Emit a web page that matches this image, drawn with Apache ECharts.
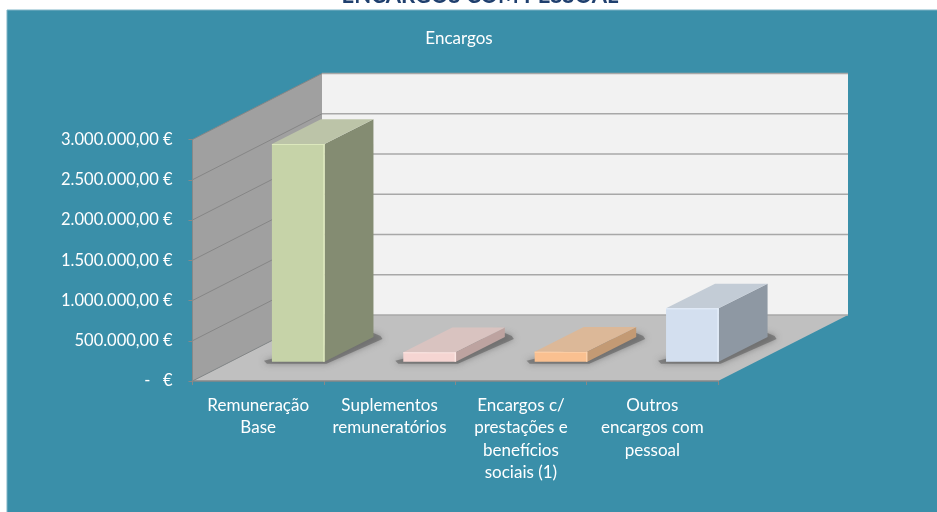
<!DOCTYPE html>
<html><head><meta charset="utf-8">
<style>html,body{margin:0;padding:0;background:#fff}#c{width:937px;height:512px}</style>
<script src="https://cdn.jsdelivr.net/npm/echarts@6/dist/echarts.min.js"></script>
</head><body><div id="c"></div>
<script>
const categories = ['Remuneração\nBase','Suplementos\nremuneratórios','Encargos c/\nprestações e\nbenefícios\nsociais (1)','Outros\nencargos com\npessoal'];
const values = [2704000, 117000, 124000, 663000];
const tickValues = [0, 500000, 1000000, 1500000, 2000000, 2500000, 3000000];
const tickLabels = ['-   €','500.000,00 €','1.000.000,00 €','1.500.000,00 €','2.000.000,00 €','2.500.000,00 €','3.000.000,00 €'];
const barFront = ['#c6d3a8','#f5d5d2','#fac090','#d3dfef'];
const barTop   = ['#bcc4a8','#d9c3c0','#dcb898','#c3ccd6'];
const barSide  = ['#848c72','#bda3a0','#c39a74','#8e98a3'];
const barEdge  = ['#dde8bd','#fbe6e3','#fcd0aa','#e4eefa'];

const DEPTH = [129.5, 66];
const BAR_OFFSET = [40, 19.3];
const BAR_DEPTH = [49, 24.7];
const BAR_WIDTH = 0.4;

const chart = echarts.init(document.getElementById('c'), null, {renderer:'canvas'});
const poly = (pts, fill, extra) => ({type:'polygon', shape:{points:pts}, style:Object.assign({fill:fill}, extra||{}), silent:true});
const line = (a, b, stroke, w) => ({type:'line', shape:{x1:a[0],y1:a[1],x2:b[0],y2:b[1]}, style:{stroke:stroke, lineWidth:w}, silent:true});

function renderWalls(params){
  const g = params.coordSys, dx = DEPTH[0], dy = DEPTH[1];
  const L=g.x, R=g.x+g.width, T=g.y, B=g.y+g.height;
  return {type:'group', children:[
    poly([[L+dx,T-dy],[R+dx+0.5,T-dy],[R+dx+0.5,B-dy],[L+dx,B-dy]], '#f2f2f2'),
    poly([[L,T],[L+dx,T-dy],[L+dx,B-dy],[L,B]], '#a0a0a0'),
    poly([[L,B],[L+dx,B-dy],[R+dx+0.5,B-dy],[R,B]], '#c0c0c0')
  ]};
}
function renderGrid(params, api){
  const g = params.coordSys, dx = DEPTH[0], dy = DEPTH[1];
  const y = api.coord([0, api.value(0)])[1];
  const L=g.x, R=g.x+g.width;
  return {type:'group', children:[
    line([L,y],[L+dx,y-dy],'#868686',1),
    line([L+dx,y-dy],[R+dx+0.5,y-dy],'#a8a8a8',1.5)
  ]};
}
function renderShadow(params, api){
  const i = api.value(0);
  const band = api.size([1,0])[0], w = band*BAR_WIDTH;
  const b = api.coord([i,0]);
  const x0 = b[0]+BAR_OFFSET[0]-w/2, x1 = x0+w, y = b[1]-BAR_OFFSET[1];
  const ddx = BAR_DEPTH[0], ddy = BAR_DEPTH[1];
  return poly([[x0-8,y-1],[x0-5,y+2],[x1+2,y+2],[x1+ddx+9,y-ddy+2],[x1+ddx+7,y-ddy-1],[x1+ddx,y-ddy-4]],
    'rgba(95,95,95,0.6)', {shadowBlur:6, shadowColor:'rgba(80,80,80,0.85)'});
}
function renderBar(params, api){
  const i = api.value(0), v = api.value(1);
  const band = api.size([1,0])[0], w = band*BAR_WIDTH;
  const b = api.coord([i,0]), t = api.coord([i,v]);
  const x0 = b[0]+BAR_OFFSET[0]-w/2, x1 = x0+w;
  const yb = b[1]-BAR_OFFSET[1], yt = t[1]-BAR_OFFSET[1];
  const ddx = BAR_DEPTH[0], ddy = BAR_DEPTH[1];
  return {type:'group', children:[
    poly([[x1,yb],[x1+ddx,yb-ddy],[x1+ddx,yt-ddy],[x1,yt]], barSide[i]),
    poly([[x0,yt],[x1,yt],[x1+ddx,yt-ddy],[x0+ddx,yt-ddy]], barTop[i]),
    poly([[x0,yb],[x1,yb],[x1,yt],[x0,yt]], barFront[i]),
    line([x1-0.5,yt],[x1-0.5,yb],barEdge[i],1.5),
    line([x0,yt+0.5],[x1,yt+0.5],barEdge[i],1)
  ]};
}

chart.setOption({
  animation:false,
  graphic:[{type:'rect', z:-10, shape:{x:7,y:10,width:931,height:503}, style:{fill:'#3a8fa9', stroke:'#7fb4c6', lineWidth:1}, silent:true}],
  title:[
    {text:'ENCARGOS COM PESSOAL', left:480, top:-15, padding:0, textAlign:'center', textStyle:{fontFamily:'Lato',fontSize:22,fontWeight:'bold',color:'#1f3f6e'}},
    {text:'Encargos', left:459, top:30, padding:0, textAlign:'center', textStyle:{fontFamily:'Lato',fontSize:17,fontWeight:'normal',color:'#fff'}}
  ],
  grid:{left:192.5, top:139.5, width:525.5, height:241.5, containLabel:false},
  xAxis:{type:'category', data:categories, boundaryGap:true,
    axisLine:{lineStyle:{color:'#888',width:1.5}},
    axisTick:{show:true,length:4,alignWithLabel:false,lineStyle:{color:'#888',width:1}},
    axisLabel:{color:'#fff',fontFamily:'Lato',fontSize:17,lineHeight:22.5,margin:13,interval:0},
    z:5},
  yAxis:{type:'value', min:0, max:3000000, interval:500000,
    axisLine:{show:true,lineStyle:{color:'#888',width:1}},
    axisTick:{show:true,length:4,lineStyle:{color:'#888',width:1}},
    splitLine:{show:false},
    axisLabel:{color:'#fff',fontFamily:'Lato',fontSize:16.5,margin:20,
      formatter:v=>tickLabels[tickValues.indexOf(v)]},
    z:5},
  series:[
    {type:'custom', coordinateSystem:'cartesian2d', data:[[0,0]], renderItem:renderWalls, clip:false, silent:true, z:1},
    {type:'custom', coordinateSystem:'cartesian2d', data:tickValues.map(v=>[v]), encode:{y:0}, renderItem:renderGrid, clip:false, silent:true, z:2},
    {type:'custom', coordinateSystem:'cartesian2d', data:values.map((v,i)=>[i,v]), encode:{x:0,y:1}, renderItem:renderShadow, clip:false, silent:true, z:3},
    {type:'custom', coordinateSystem:'cartesian2d', data:values.map((v,i)=>[i,v]), encode:{x:0,y:1}, renderItem:renderBar, clip:false, silent:true, z:4}
  ]
});
</script></body></html>
